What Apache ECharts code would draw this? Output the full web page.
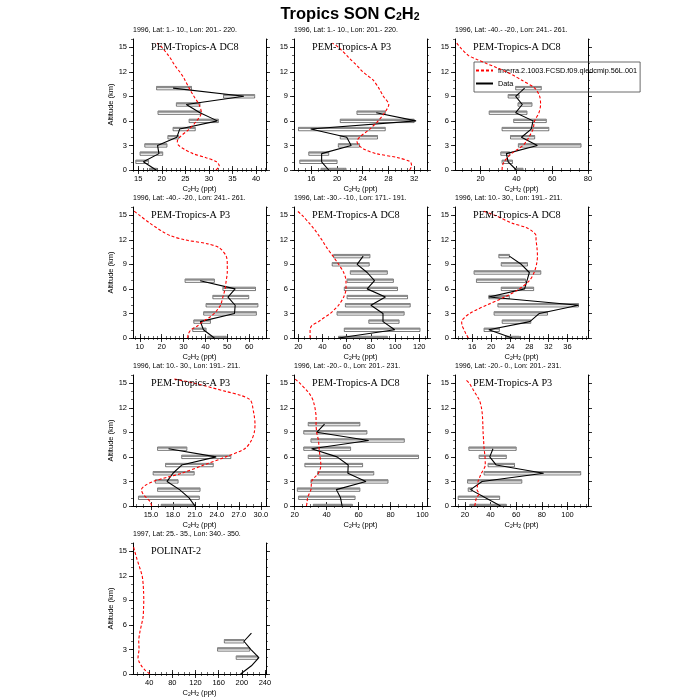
<!DOCTYPE html>
<html><head><meta charset="utf-8">
<script src="https://cdn.jsdelivr.net/npm/echarts@6/dist/echarts.min.js"></script>
<style>html,body{margin:0;padding:0;background:#fff}#c{width:700px;height:700px}</style>
</head><body><div id="c"></div>
<script>
// ---------------- data ----------------
const MODEL_NAME = 'fmerra.2.1003.FCSD.f09.qledcmip.56L.001';
const DATA_NAME = 'Data';
const MODEL_ALT = [0,0.5,1,1.5,2,2.5,3,3.5,4,5,6,7,8,9,10,11,11.5,12,12.5,13,13.5,14,15,15.5];
const ALT10 = [0,1,2,3,4,5,6,7,8,9,10];
const ALT7 = [0,1,2,3,4,5,6,7];
const ALT5 = [0,1,2,3,4,5];

const subtitles = [
  '1996, Lat: 1.- 10., Lon: 201.- 220.',
  '1996, Lat: 1.- 10., Lon: 201.- 220.',
  '1996, Lat: -40.- -20., Lon: 241.- 261.',
  '1996, Lat: -40.- -20., Lon: 241.- 261.',
  '1996, Lat: -30.- -10., Lon: 171.- 191.',
  '1996, Lat: 10.- 30., Lon: 191.- 211.',
  '1996, Lat: 10.- 30., Lon: 191.- 211.',
  '1996, Lat: -20.- 0., Lon: 201.- 231.',
  '1996, Lat: -20.- 0., Lon: 201.- 231.',
  '1997, Lat: 25.- 35., Lon: 340.- 350.'
];
const labels = ['PEM-Tropics-A DC8','PEM-Tropics-A P3','PEM-Tropics-A DC8','PEM-Tropics-A P3',
  'PEM-Tropics-A DC8','PEM-Tropics-A DC8','PEM-Tropics-A P3','PEM-Tropics-A DC8','PEM-Tropics-A P3','POLINAT-2'];

const yTicks = [0,3,6,9,12,15];

// panel 1
const p1Ticks = [15,20,25,30,35,40];
const p1Model = [31.5,32.2,31.6,29.4,26.6,24.9,23.6,23.3,23.8,25.8,27.4,28.4,27.9,26.8,25.8,24.9,24.4,23.8,23.1,22.5,22.0,21.4,20.0,19.0];
const p1Data = [18.8,16.1,19.4,19.1,23.2,23.8,31.8,28.1,25.2,37.4,22.4];
const p1Lo = [17.4,14.5,15.4,16.4,21.3,22.4,25.8,19.2,23.1,33.1,18.9];
const p1Hi = [18.9,17.2,20.2,21.1,23.6,27.1,32.0,28.3,28.1,39.7,26.3];
// panel 2
const p2Ticks = [16,20,24,28,32];
const p2Model = [31.3,31.6,31.4,29.5,26.1,24.3,23.4,23.1,23.5,25.1,26.4,27.4,28.05,27.2,26.5,25.6,24.8,24.0,23.4,22.8,22.1,21.5,20.2,19.3];
const p2Data = [18.7,17.6,17.6,22.2,21.5,15.9,32.3,26.1];
const p2Lo = [17.5,14.2,15.6,20.2,20.5,14.0,20.5,23.1];
const p2Hi = [21.4,20.0,18.7,23.5,26.3,27.5,32.0,27.5];
// panel 3
const p3Ticks = [20,40,60,80];
const p3Model = [32,32.2,33.1,35,37.2,40.5,43.7,45.5,47,49.3,50.2,52.6,53.5,53,50.2,42.8,38.8,34.4,29,23.3,18,13.1,8.5,6.7];
const p3Data = [40,35.4,34.4,51.7,42.8,48.3,49.3,39.6,43.3,39.6,44.6];
const p3Lo = [39,32,31.3,41.1,36.7,32,38.5,24.8,40.9,35.4,39.6];
const p3Hi = [43.7,37.8,36.3,76.1,50.2,58.1,56.7,45.9,48.7,41.5,53.9];
// panel 4
const p4Ticks = [10,20,30,40,50,60];
const p4Model = [31.9,32.2,33.4,36.5,38.8,41.8,44.1,45.6,46.9,48,49,49.5,50,50,49.5,46.4,41.1,30.4,24,20.4,17.5,14.7,9.8,7.4];
const p4Data = [44.1,39.1,37.7,53.3,53.6,50.3,53.6,37.6];
const p4Lo = [41.1,34.2,34.7,39.2,40.3,43.4,48,30.7];
const p4Hi = [49.5,40.3,42.3,63.3,64,59.8,62.9,44.1];
// panel 5
const p5Ticks = [20,40,60,80,100,120];
const p5Model = [29.7,29.7,29.7,31.1,36.7,41.5,46.4,50,53.3,57.5,59.4,59.4,57.5,53.3,48.6,43.6,41.5,39.4,37,34.7,32,29.2,23,19.2];
const p5Data = [53.3,99.7,90,90,80,92,76.9,83,76.9,68.6,73.6];
const p5Lo = [53.3,58,78.3,52,58.9,60.3,58,60.3,63,48,49.2];
const p5Hi = [93.6,120.6,103.3,107.5,112.5,110.3,102,98.6,93.6,78.6,79.2];
// panel 6
const p6Ticks = [16,20,24,28,32,36];
const p6Model = [15.2,14.7,14.3,13.9,13.8,14.4,15.5,17.1,19,22.8,25.9,28,29,29.5,29.7,29.6,29.5,29.4,29.4,28.7,27.3,24.5,20.7,18.3];
const p6Data = [24.4,19.5,28.1,30.1,38.3,19.5,27,27.5,28,26.3,23.8];
const p6Lo = [23.1,18.5,22.3,20.6,21.4,19.5,22.1,16.9,16.4,22.1,21.6];
const p6Hi = [25.9,21.7,28.3,31.8,38.3,23.8,28.9,27.2,30.4,27.6,23.8];
// panel 7
const p7Ticks = [15,18,21,24,27,30];
const p7Model = [15.1,14.9,14.4,13.9,13.7,14.2,15.3,17.2,19.2,22.2,25.2,27.8,28.7,29.1,29.2,29.1,29.0,28.9,28.8,28.5,27.3,25.2,20.9,18.2];
const p7Data = [21,20.2,18.9,17.2,18,19.2,23.9,17.4];
const p7Lo = [16.4,13.3,15.9,15.6,15.3,17,19.2,15.9];
const p7Hi = [21,21.6,21.7,18.7,20.9,23.5,25.9,19.9];
// panel 8
const p8Ticks = [20,40,60,80,100];
const p8Model = [27.4,27.8,28.1,29.1,30.2,30.4,30.6,32.5,34.9,36.4,35.9,35.3,34.9,33.8,33.4,33.4,33.1,32.7,32.1,31.3,30,28.1,23.2,20.4];
const p8Data = [49.7,48.7,46.1,64.6,53.3,53.5,46.5,30.6,66.3,33.8,38.7];
const p8Lo = [31.7,22.5,21.7,30.2,34.4,26.4,28.5,25.7,30.2,25.7,28.5];
const p8Hi = [56.1,57.8,60.8,78.4,69.5,62.5,97.5,55,88.6,65.2,60.8];
// panel 9
const p9Ticks = [20,40,60,80,100];
const p9Model = [27.7,28.3,29,31.1,29.5,29.8,30.3,31.5,32.9,35.9,35.7,35,34.6,34.2,34,33.7,33.4,32.9,32.2,31.1,29.2,27.2,23.4,20];
const p9Data = [47.9,36,24.4,33.4,81.4,44.5,39.4,41.9];
const p9Lo = [23.9,14.8,22.6,22.1,35,38.1,31.1,23.1];
const p9Hi = [52.3,47.1,25.7,64.4,110.3,58.7,52.3,60];
// panel 10
const p10Ticks = [40,80,120,160,200,240];
const p10Model = [41.2,32.4,26.6,22.5,20.7,21.5,22.5,22.2,21.9,23.6,26.6,29.5,30.2,30.6,30.3,29.5,28.8,27.8,25.8,23.6,21.3,19,14.9,13];
const p10Data = [197.9,216.6,229.5,215.4,203.7,216.6];
const p10Lo = [null,null,190.3,158.1,169.8,null];
const p10Hi = [null,null,227.2,213.7,203.7,null];

// ---------------- layout / settings ----------------
const panels = [
  {xmin:13.9, xmax:42.1, ticks:p1Ticks, minor:1, dec:0, alt:ALT10, model:p1Model, data:p1Data, lo:p1Lo, hi:p1Hi},
  {xmin:13.3, xmax:34.0, ticks:p2Ticks, minor:1, dec:0, alt:ALT7, model:p2Model, data:p2Data, lo:p2Lo, hi:p2Hi},
  {xmin:5.7, xmax:80, ticks:p3Ticks, minor:5, dec:0, alt:ALT10, model:p3Model, data:p3Data, lo:p3Lo, hi:p3Hi},
  {xmin:6.9, xmax:67.7, ticks:p4Ticks, minor:2, dec:0, alt:ALT7, model:p4Model, data:p4Data, lo:p4Lo, hi:p4Hi},
  {xmin:16.4, xmax:126.4, ticks:p5Ticks, minor:5, dec:0, alt:ALT10, model:p5Model, data:p5Data, lo:p5Lo, hi:p5Hi},
  {xmin:12.4, xmax:40.3, ticks:p6Ticks, minor:1, dec:0, alt:ALT10, model:p6Model, data:p6Data, lo:p6Lo, hi:p6Hi},
  {xmin:12.55, xmax:30.7, ticks:p7Ticks, minor:1, dec:1, alt:ALT7, model:p7Model, data:p7Data, lo:p7Lo, hi:p7Hi},
  {xmin:19.6, xmax:102.8, ticks:p8Ticks, minor:5, dec:0, alt:ALT10, model:p8Model, data:p8Data, lo:p8Lo, hi:p8Hi},
  {xmin:12.3, xmax:116, ticks:p9Ticks, minor:5, dec:0, alt:ALT7, model:p9Model, data:p9Data, lo:p9Lo, hi:p9Hi},
  {xmin:12, xmax:241.8, ticks:p10Ticks, minor:10, dec:0, alt:ALT5, model:p10Model, data:p10Data, lo:p10Lo, hi:p10Hi}
];
const COL_LEFT = [133, 294, 455];
const ROW_TOP = [39, 207, 375, 543];
const GW = 133, GH = 131;
const FONT = 'Liberation Sans';

function minorVals(min, max, step) {
  const out = [];
  for (let v = Math.ceil(min / step - 1e-9) * step; v <= max + 1e-9; v += step) out.push(+v.toFixed(6));
  return out;
}

const grids = [], xAxes = [], yAxes = [], series = [], titles = [];
titles.push({
  text: '{m|Tropics SON C}{s|2}{m|H}{s|2}', left: 'center', top: 3, padding: 0,
  textStyle: {rich: {
    m: {fontFamily: FONT, fontSize: 16.5, color: '#000', lineHeight: 20, verticalAlign: 'bottom'},
    s: {fontFamily: FONT, fontSize: 10.5, color: '#000', lineHeight: 8, verticalAlign: 'bottom'}
  }}
});

const axisLineStyle = {show: true, lineStyle: {color: '#000', width: 1}};
const nameRich = {
  m: {fontFamily: FONT, fontSize: 7.5, color: '#000', lineHeight: 10, verticalAlign: 'bottom'},
  s: {fontFamily: FONT, fontSize: 5, color: '#000', lineHeight: 5, verticalAlign: 'bottom'}
};

function barItem(params, api) {
  const lo = api.value(0), hi = api.value(1), a = api.value(2);
  if (isNaN(lo) || isNaN(hi)) return;
  const p0 = api.coord([lo, a]), p1 = api.coord([hi, a]);
  const h = 3.4;
  const cs = params.coordSys;
  const clipR = {x: cs.x, y: cs.y, width: cs.width, height: cs.height};
  const outer = echarts.graphic.clipRectByRect({x: p0[0], y: p0[1] - h / 2, width: p1[0] - p0[0], height: h}, clipR);
  const inner = echarts.graphic.clipRectByRect({x: p0[0], y: p0[1] - h / 2, width: p1[0] - p0[0], height: h / 2}, clipR);
  const ch = [];
  if (outer) ch.push({type: 'rect', shape: outer, style: {fill: '#fff', stroke: '#222', lineWidth: 0.6}});
  if (inner) ch.push({type: 'rect', shape: inner, style: {fill: '#8c8c8c'}});
  return {type: 'group', children: ch};
}

panels.forEach((p, i) => {
  const col = i % 3, row = Math.floor(i / 3);
  const left = COL_LEFT[col], top = ROW_TOP[row];
  grids.push({left: left, top: top, width: GW, height: GH, containLabel: false});
  const xMinor = minorVals(p.xmin, p.xmax, p.minor);
  const yMinor = minorVals(0, 16, 1);
  const fmt = v => (+v).toFixed(p.dec);
  xAxes.push({
    gridIndex: i, type: 'value', position: 'bottom', min: p.xmin, max: p.xmax,
    axisLine: axisLineStyle, splitLine: {show: false},
    axisTick: {show: true, inside: false, length: 4, customValues: p.ticks, lineStyle: {color: '#000', width: 0.8}},
    axisLabel: {show: true, customValues: p.ticks, formatter: fmt, fontFamily: FONT, fontSize: 7.5, color: '#000', margin: 5},
    name: '{m|C}{s|2}{m|H}{s|2}{m| (ppt)}', nameLocation: 'middle', nameGap: 13,
    nameTextStyle: {rich: nameRich}
  });
  xAxes.push({
    gridIndex: i, type: 'value', position: 'top', min: p.xmin, max: p.xmax,
    axisLine: axisLineStyle, splitLine: {show: false},
    axisTick: {show: true, inside: false, length: 4, customValues: p.ticks, lineStyle: {color: '#000', width: 0.8}},
    axisLabel: {show: false}
  });
  xAxes.push({
    gridIndex: i, type: 'value', position: 'bottom', min: p.xmin, max: p.xmax,
    axisLine: {show: false}, splitLine: {show: false},
    axisTick: {show: true, inside: false, length: 2, customValues: xMinor, lineStyle: {color: '#000', width: 0.6}},
    axisLabel: {show: false}
  });
  xAxes.push({
    gridIndex: i, type: 'value', position: 'top', min: p.xmin, max: p.xmax,
    axisLine: {show: false}, splitLine: {show: false},
    axisTick: {show: true, inside: false, length: 2, customValues: xMinor, lineStyle: {color: '#000', width: 0.6}},
    axisLabel: {show: false}
  });
  const yMain = {
    gridIndex: i, type: 'value', position: 'left', min: 0, max: 16,
    axisLine: axisLineStyle, splitLine: {show: false},
    axisTick: {show: true, inside: false, length: 4, customValues: yTicks, lineStyle: {color: '#000', width: 0.8}},
    axisLabel: {show: true, customValues: yTicks, fontFamily: FONT, fontSize: 7.5, color: '#000', margin: 6}
  };
  if (col === 0) {
    yMain.name = 'Altitude (km)';
    yMain.nameLocation = 'middle';
    yMain.nameGap = 17;
    yMain.nameTextStyle = {fontFamily: FONT, fontSize: 7.5, color: '#000'};
  }
  yAxes.push(yMain);
  yAxes.push({
    gridIndex: i, type: 'value', position: 'right', min: 0, max: 16,
    axisLine: axisLineStyle, splitLine: {show: false},
    axisTick: {show: true, inside: false, length: 4, customValues: yTicks, lineStyle: {color: '#000', width: 0.8}},
    axisLabel: {show: false}
  });
  yAxes.push({
    gridIndex: i, type: 'value', position: 'left', min: 0, max: 16,
    axisLine: {show: false}, splitLine: {show: false},
    axisTick: {show: true, inside: false, length: 2, customValues: yMinor, lineStyle: {color: '#000', width: 0.6}},
    axisLabel: {show: false}
  });
  yAxes.push({
    gridIndex: i, type: 'value', position: 'right', min: 0, max: 16,
    axisLine: {show: false}, splitLine: {show: false},
    axisTick: {show: true, inside: false, length: 2, customValues: yMinor, lineStyle: {color: '#000', width: 0.6}},
    axisLabel: {show: false}
  });

  const xi = 4 * i, yi = 4 * i;
  series.push({
    type: 'custom', name: 'range', xAxisIndex: xi, yAxisIndex: yi, silent: true, z: 2,
    renderItem: barItem, encode: {x: [0, 1], y: 2},
    data: p.alt.map((a, k) => [p.lo[k] == null ? NaN : p.lo[k], p.hi[k] == null ? NaN : p.hi[k], a])
  });
  series.push({
    type: 'line', name: DATA_NAME, xAxisIndex: xi, yAxisIndex: yi, z: 3,
    symbol: 'none', silent: true, clip: true,
    lineStyle: {color: '#000', width: 1.1}, itemStyle: {color: '#000'},
    data: p.alt.map((a, k) => [p.data[k], a])
  });
  series.push({
    type: 'line', name: MODEL_NAME, xAxisIndex: xi, yAxisIndex: yi, z: 4,
    symbol: 'none', silent: true, clip: true, smooth: 0.3,
    lineStyle: {color: '#ff0000', width: 1.1, type: [3, 2]}, itemStyle: {color: '#ff0000'},
    data: MODEL_ALT.map((a, k) => [p.model[k], a])
  });

  titles.push({
    text: subtitles[i], left: left, top: top - 12, padding: 0,
    textStyle: {fontFamily: FONT, fontSize: 7, fontWeight: 'normal', color: '#000'}
  });
  titles.push({
    text: labels[i], left: left + 18, top: top + 3, padding: 0,
    textStyle: {fontFamily: 'Liberation Serif', fontSize: 10.2, fontWeight: 'normal', color: '#000'}
  });
});

const chart = echarts.init(document.getElementById('c'), null, {renderer: 'canvas'});
chart.setOption({
  animation: false,
  backgroundColor: '#fff',
  title: titles,
  legend: {
    data: [MODEL_NAME, DATA_NAME], orient: 'vertical', left: 474, top: 62,
    padding: [5, 3, 5, 1], itemGap: 6, itemWidth: 17, itemHeight: 8,
    itemStyle: {opacity: 0},
    borderColor: '#444', borderWidth: 0.8, backgroundColor: 'transparent',
    textStyle: {fontFamily: FONT, fontSize: 7.3, color: '#000'},
    selectedMode: false
  },
  grid: grids,
  xAxis: xAxes,
  yAxis: yAxes,
  series: series
});
</script>
</body></html>
